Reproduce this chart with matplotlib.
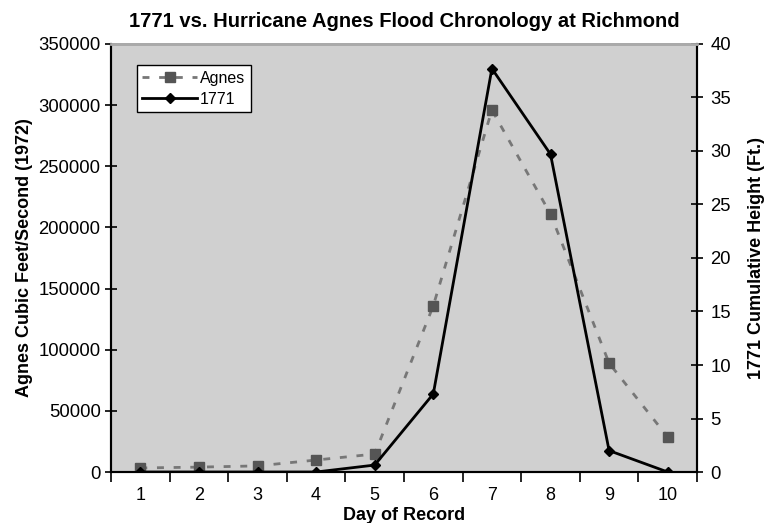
import matplotlib

matplotlib.use("Agg")
import matplotlib.pyplot as plt  # noqa: E402
from matplotlib.ticker import FixedLocator  # noqa: E402

plt.rcParams["font.family"] = ["Liberation Sans", "DejaVu Sans"]

days = [1, 2, 3, 4, 5, 6, 7, 8, 9, 10]
agnes_cfs = [3300, 4000, 5000, 9800, 14700, 136000, 296000, 211000, 89000, 28600]
height_1771 = [0, 0, 0, 0, 0.65, 7.3, 37.7, 29.7, 2.0, 0]

left_ticks = [0, 50000, 100000, 150000, 200000, 250000, 300000, 350000]
right_ticks = [0, 5, 10, 15, 20, 25, 30, 35, 40]

fig = plt.figure(figsize=(7.64, 5.23), dpi=100)
ax = fig.add_axes([0.1453, 0.0975, 0.767, 0.8184])
ax.set_facecolor("#D0D0D0")
ax2 = ax.twinx()

la, = ax.plot(days, agnes_cfs, color="#777777", linestyle=(0, (2.5, 3.5)), linewidth=2,
              marker="s", markersize=7, markerfacecolor="#555555", markeredgecolor="#555555",
              label="Agnes", zorder=3)
lb, = ax2.plot(days, height_1771, color="black", linewidth=2, marker="D", markersize=5,
               markerfacecolor="black", label="1771", zorder=4)

ax.set_xlim(0.5, 10.5)
ax.set_ylim(0, 350000)
ax2.set_ylim(0, 40)
ax.set_yticks(left_ticks)
ax2.set_yticks(right_ticks)
ax.set_xticks(days)
ax.xaxis.set_minor_locator(FixedLocator([d + 0.5 for d in range(0, 11)]))
ax.tick_params(axis="x", which="major", length=0, labelsize=13, pad=11)
ax.tick_params(axis="x", which="minor", length=7, direction="out", width=1.2)
ax.tick_params(axis="y", direction="inout", length=9, width=1.2, labelsize=13.3, pad=3)
ax2.tick_params(axis="y", direction="inout", length=9, width=1.2, labelsize=13.3, pad=5)

for a in (ax, ax2):
    a.spines["top"].set_color("#AAAAAA")
    a.spines["top"].set_linewidth(2)
    a.spines["left"].set_linewidth(1.5)
    a.spines["right"].set_linewidth(1.5)
    a.spines["bottom"].set_linewidth(1.5)

ax.set_xlabel("Day of Record", fontsize=13, fontweight="bold", labelpad=2)
ax.set_ylabel("Agnes Cubic Feet/Second (1972)", fontsize=13, fontweight="bold", labelpad=4)
ax2.set_ylabel("1771 Cumulative Height (Ft.)", fontsize=13, fontweight="bold", labelpad=12)
ax.set_title("1771 vs. Hurricane Agnes Flood Chronology at Richmond", fontsize=14.5,
             fontweight="bold", pad=12)

leg = ax2.legend(handles=[la, lb], loc="upper left", bbox_to_anchor=(0.044, 0.95),
                 fontsize=11.5, fancybox=False, framealpha=1, edgecolor="black",
                 handlelength=3.4, borderpad=0.35, labelspacing=0.35, handletextpad=0.2,
                 borderaxespad=0)
leg.get_frame().set_linewidth(1)

fig.savefig("out.png", dpi=100)
